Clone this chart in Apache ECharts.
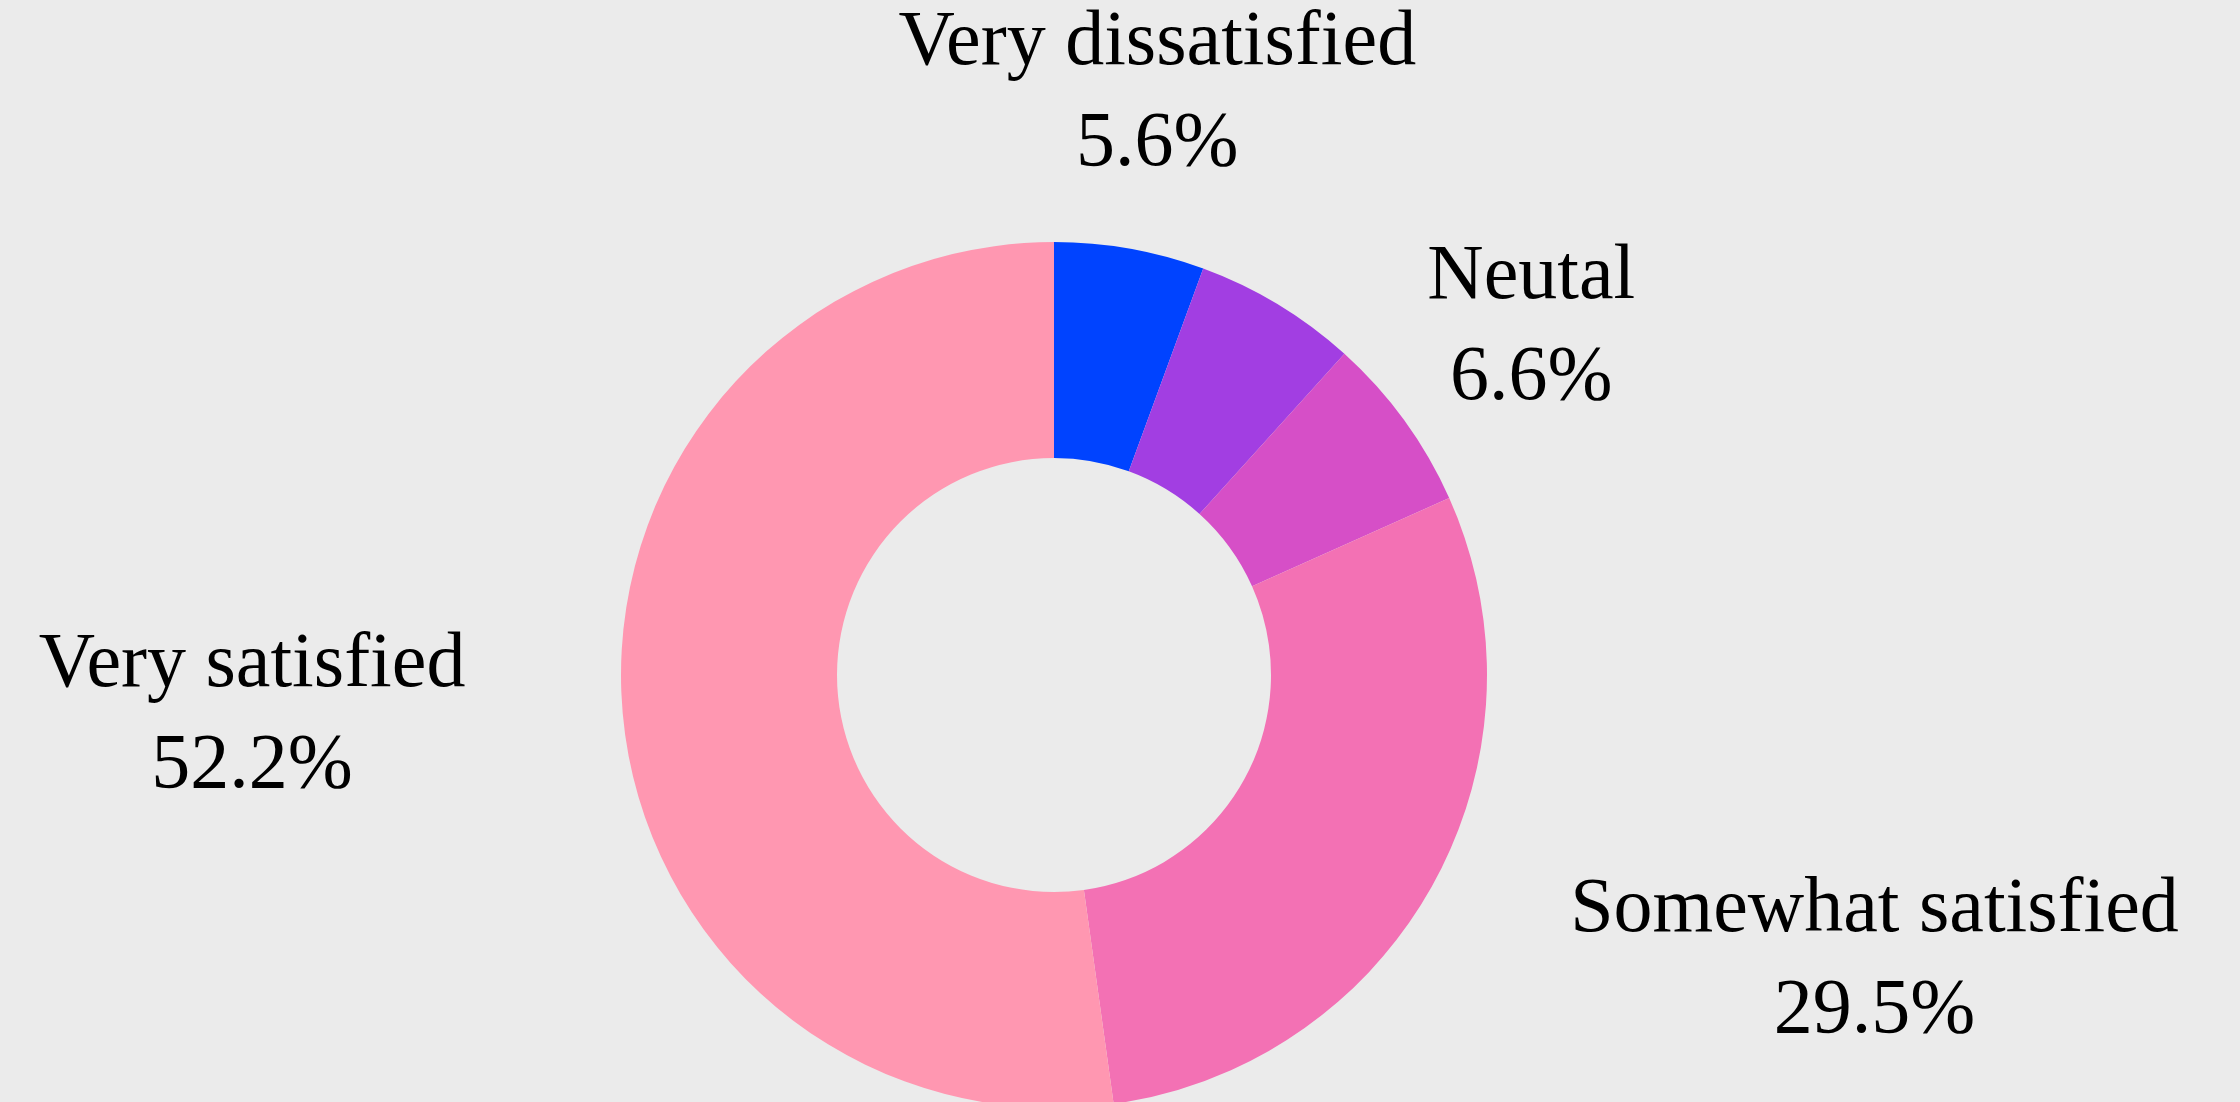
<!DOCTYPE html>
<html>
<head>
<meta charset="utf-8">
<script src="https://cdn.jsdelivr.net/npm/echarts@6/dist/echarts.min.js"></script>
<style>
  html, body { margin: 0; padding: 0; background: #ebebeb; }
  #chart { width: 2240px; height: 1102px; }
</style>
</head>
<body>
<div id="chart"></div>
<script>
// ---- data ----
const categories = ['Very dissatisfied', 'Somewhat dissatisfied', 'Neutal', 'Somewhat satisfied', 'Very satisfied'];
const shares = [5.6, 6.1, 6.6, 29.5, 52.2];
const showLabel = [true, false, true, true, true];
const colors = ['#0043ff', '#a23ee2', '#d64fc7', '#f371b4', '#ff97b1'];

// ---- layout ----
const CX = 1054, CY = 675, R_IN = 217, R_OUT = 433, R_LABEL = 590;

const total = shares.reduce((a, b) => a + b, 0);
const mids = [];
let acc = 0;
shares.forEach(v => { mids.push((acc + v / 2) / total * 2 * Math.PI); acc += v; });

const chart = echarts.init(document.getElementById('chart'), null, { renderer: 'canvas' });
chart.setOption({
  backgroundColor: '#ebebeb',
  animation: false,
  series: [{
    type: 'pie',
    center: [CX, CY],
    radius: [R_IN, R_OUT],
    startAngle: 90,
    clockwise: true,
    avoidLabelOverlap: false,
    itemStyle: { borderWidth: 0 },
    emphasis: { disabled: true },
    label: {
      show: true,
      position: 'outside',
      formatter: p => p.name + '\n' + p.value.toFixed(1) + '%',
      fontFamily: '"Liberation Serif", "DejaVu Serif", serif',
      fontSize: 78,
      lineHeight: 101,
      color: '#000',
      overflow: 'none'
    },
    labelLine: { show: false },
    labelLayout: function (params) {
      const a = mids[params.dataIndex];
      const ax = CX + R_LABEL * Math.sin(a);
      const ay = CY - R_LABEL * Math.cos(a);
      const w = params.labelRect.width;
      let x = ax;
      if (Math.cos(a) < 0) x = ax + (Math.sin(a) > 0 ? w / 2 : -w / 2);
      return { x: x, y: ay, align: 'center', verticalAlign: 'middle', hideOverlap: false };
    },
    data: categories.map((c, i) => ({
      name: c,
      value: shares[i],
      itemStyle: { color: colors[i] },
      label: { show: showLabel[i] }
    }))
  }]
});
</script>
</body>
</html>
